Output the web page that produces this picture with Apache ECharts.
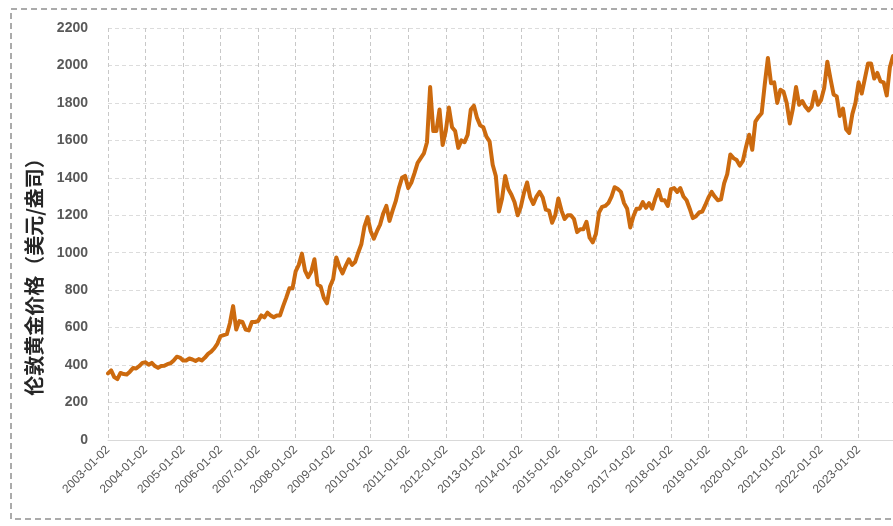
<!DOCTYPE html>
<html>
<head>
<meta charset="utf-8">
<script src="https://cdn.jsdelivr.net/npm/echarts@6/dist/echarts.min.js"></script>
<style>html,body{margin:0;padding:0;background:#fff}#c{width:893px;height:526px}</style>
</head>
<body>
<div id="c"></div>
<script>
// Years covered (monthly points, Jan..Dec for each year)
const years = [2003,2004,2005,2006,2007,2008,2009,2010,2011,2012,2013,2014,2015,2016,2017,2018,2019,2020,2021,2022,2023];
// Tick labels shown at each January
const yearLabels = ['2003-01-02','2004-01-02','2005-01-02','2006-01-02','2007-01-02','2008-01-02','2009-01-02','2010-01-02','2011-01-02','2012-01-02','2013-01-02','2014-01-02','2015-01-02','2016-01-02','2017-01-02','2018-01-02','2019-01-02','2020-01-02','2021-01-02','2022-01-02','2023-01-02'];
// London gold price (USD/oz), one value per month
const prices = [
  356, 372, 336, 325, 358, 352, 350, 365, 384, 382, 395, 412,   // 2003
  415, 402, 412, 395, 385, 395, 396, 405, 410, 425, 445, 440,   // 2004
  425, 425, 435, 430, 422, 432, 425, 440, 460, 472, 490, 515,   // 2005
  555, 560, 565, 625, 715, 590, 635, 630, 590, 585, 630, 630,   // 2006
  635, 665, 655, 680, 665, 655, 665, 665, 715, 760, 810, 810,   // 2007
  900, 935, 995, 905, 870, 900, 965, 830, 820, 760, 730, 820,   // 2008
  860, 975, 925, 890, 930, 965, 935, 950, 1000, 1045, 1140, 1190, // 2009
  1115, 1075, 1115, 1150, 1210, 1250, 1170, 1225, 1275, 1345, 1400, 1410, // 2010
  1345, 1375, 1425, 1480, 1505, 1530, 1590, 1885, 1650, 1650, 1765, 1575, // 2011
  1650, 1775, 1670, 1650, 1560, 1600, 1590, 1630, 1765, 1785, 1720, 1680, // 2012
  1670, 1620, 1595, 1470, 1410, 1220, 1290, 1410, 1340, 1310, 1270, 1200, // 2013
  1245, 1320, 1375, 1295, 1260, 1300, 1325, 1295, 1230, 1225, 1160, 1200, // 2014
  1290, 1225, 1180, 1200, 1200, 1180, 1110, 1125, 1125, 1165, 1080, 1055, // 2015
  1100, 1215, 1245, 1250, 1265, 1300, 1350, 1340, 1325, 1265, 1235, 1135, // 2016
  1195, 1235, 1235, 1270, 1240, 1265, 1235, 1290, 1335, 1280, 1280, 1250, // 2017
  1340, 1345, 1325, 1345, 1300, 1280, 1235, 1185, 1195, 1215, 1220, 1255, // 2018
  1295, 1325, 1300, 1280, 1285, 1370, 1420, 1525, 1505, 1495, 1465, 1490, // 2019
  1565, 1630, 1550, 1700, 1725, 1745, 1900, 2040, 1905, 1910, 1800, 1870, // 2020
  1860, 1800, 1690, 1770, 1885, 1790, 1810, 1780, 1760, 1780, 1860, 1790, // 2021
  1815, 1880, 2020, 1930, 1845, 1835, 1730, 1770, 1660, 1640, 1740, 1800, // 2022
  1910, 1850, 1930, 2010, 2010, 1930, 1960, 1915, 1910, 1840, 1990, 2050  // 2023
];
const yMin = 0, yMax = 2200, yStep = 200;

const categories = [];
years.forEach(y => { for (let m = 1; m <= 12; m++) categories.push(y + '-' + String(m).padStart(2, '0')); });

const chart = echarts.init(document.getElementById('c'));
chart.setOption({
  animation: false,
  backgroundColor: '#ffffff',
  grid: { left: 108, right: 0, top: 28, bottom: 86, containLabel: false },
  graphic: [
    { type: 'rect', silent: true, z: -1,
      shape: { x: 11, y: 9, width: 900, height: 510 },
      style: { fill: 'none', stroke: '#ababab', lineWidth: 2, lineDash: [6, 4] } },
    { type: 'text', silent: true,
      x: 34, y: 272, rotation: Math.PI / 2,
      style: { text: '伦敦黄金价格（美元/盎司）', fontFamily: '"Noto Sans CJK SC", sans-serif',
        fontSize: 20, fontWeight: 'bold', fill: '#262626', align: 'center', verticalAlign: 'middle' } }
  ],
  xAxis: {
    type: 'category',
    data: categories,
    boundaryGap: false,
    axisLine: { show: true, lineStyle: { color: '#d9d9d9', width: 1 } },
    axisTick: { show: false },
    axisLabel: {
      interval: (i) => i % 12 === 0,
      formatter: (v, i) => yearLabels[Math.floor(i / 12)],
      rotate: 45, fontSize: 12, color: '#595959', margin: 8,
      fontFamily: '"Liberation Sans", Arial, sans-serif'
    },
    splitLine: { show: true, interval: (i) => i % 12 === 0,
      lineStyle: { color: '#c8c8c8', type: [4, 3], width: 1 } }
  },
  yAxis: {
    type: 'value', min: yMin, max: yMax, interval: yStep,
    axisLine: { show: false }, axisTick: { show: false },
    axisLabel: { fontSize: 14, fontWeight: 'bold', color: '#595959', margin: 20,
      formatter: (v) => String(v),
      fontFamily: '"Liberation Sans", Arial, sans-serif' },
    splitLine: { show: true, lineStyle: { color: '#dcdcdc', type: [4, 3], width: 1 } }
  },
  series: [{
    type: 'line', data: prices, showSymbol: false, symbol: 'none',
    lineStyle: { color: '#CC6A0E', width: 4, join: 'round', cap: 'round' },
    itemStyle: { color: '#CC6A0E' }
  }]
});
</script>
</body>
</html>
